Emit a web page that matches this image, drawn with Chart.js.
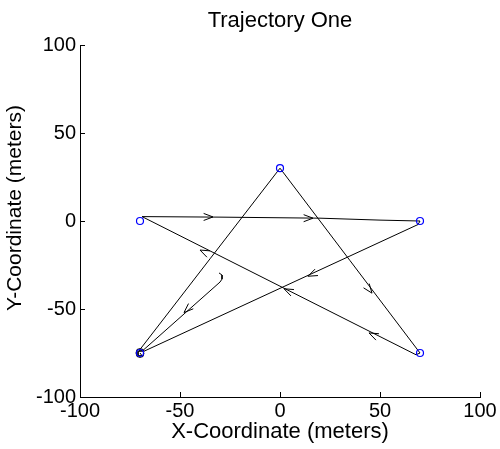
<!DOCTYPE html>
<html>
<head>
<meta charset="utf-8">
<script src="https://cdn.jsdelivr.net/npm/chart.js@4/dist/chart.umd.min.js"></script>
<style>
  html, body { margin: 0; padding: 0; background: #fff; }
  canvas { display: block; }
</style>
</head>
<body>
<canvas id="chart" width="500" height="449"></canvas>
<script>
const fontFamily = "'Liberation Sans', Arial, sans-serif";

// flown path, in meters
const trajX = [-30.5, -29, -29, -30, -69, -70.5, -70, -35, 0, 35, 70, 68, -69, -30, 20, 50, 70, 69, -68,
  -68.5, -70, -71.5, -72, -71.5, -70, -68.5, -68, -69, -71, -71, -69, -70];
const trajY = [-29.5, -30.7, -33, -34.7, -74, -74, -73, -21.5, 30, -22.5, -75, -76, 2.5, 2.2, 1.6, 0.5, 0, -2, -74,
  -73, -72.5, -73, -75, -77, -77.5, -77, -75, -73.5, -74, -76.5, -76.5, -75];

// waypoints (blue circles)
const wpX = [0, -70, 70, 70, -70];
const wpY = [30, 0, 0, -75, -75];

// arrow heads: tip position and travel direction
const arrowX = [-48, 46, 44.5, 2, -40, -33.5, 16.5, 14];
const arrowY = [-52, -41, -63.6, -38.5, -16.5, 2.3, 1.6, -31.4];
const arrowDX = [-22, 70, -140, -140, -140, 1, 1, -139];
const arrowDY = [-23, -105, 75, 75, 75, 0, 0, -73];

const axisTicks = [-100, -50, 0, 50, 100];

Chart.defaults.color = '#000';
Chart.defaults.font.family = fontFamily;

const arrowPlugin = {
  id: 'arrows',
  afterDatasetsDraw(chart) {
    const {ctx, scales: {x, y}} = chart;
    ctx.save();
    ctx.strokeStyle = '#000';
    ctx.lineWidth = 1;
    arrowX.forEach((ax, i) => {
      const px = x.getPixelForValue(ax);
      const py = y.getPixelForValue(arrowY[i]);
      const qx = x.getPixelForValue(ax - arrowDX[i] * 0.01);
      const qy = y.getPixelForValue(arrowY[i] - arrowDY[i] * 0.01);
      const a = Math.atan2(py - qy, px - qx);
      const len = 10, spread = 0.36;
      ctx.beginPath();
      ctx.moveTo(px - len * Math.cos(a - spread), py - len * Math.sin(a - spread));
      ctx.lineTo(px, py);
      ctx.lineTo(px - len * Math.cos(a + spread), py - len * Math.sin(a + spread));
      ctx.stroke();
    });
    ctx.restore();
  }
};

const yTitlePlugin = {
  id: 'yTitle',
  afterDraw(chart) {
    const {ctx} = chart;
    ctx.save();
    ctx.translate(15, 208);
    ctx.rotate(-Math.PI / 2);
    ctx.font = `21px ${fontFamily}`;
    ctx.fillStyle = '#000';
    ctx.textAlign = 'center';
    ctx.textBaseline = 'middle';
    ctx.fillText('Y-Coordinate (meters)', 0, 0);
    ctx.restore();
  }
};

const axisCommon = {
  type: 'linear',
  min: -100,
  max: 100,
  afterBuildTicks: s => { s.ticks = axisTicks.map(v => ({value: v})); },
  grid: { drawOnChartArea: false, drawTicks: true, tickLength: -5, color: '#000' },
  border: { display: true, color: '#000', width: 1 },
};

new Chart(document.getElementById('chart'), {
  type: 'scatter',
  data: {
    datasets: [
      {
        data: wpX.map((v, i) => ({x: v, y: wpY[i]})),
        pointStyle: 'circle',
        pointRadius: 3.5,
        borderColor: '#0000ff',
        backgroundColor: 'rgba(0,0,0,0)',
        borderWidth: 1.2,
        showLine: false,
      },
      {
        data: trajX.map((v, i) => ({x: v, y: trajY[i]})),
        showLine: true,
        borderColor: '#000',
        borderWidth: 1,
        pointRadius: 0,
        tension: 0,
      },
    ]
  },
  options: {
    responsive: false,
    animation: false,
    layout: { padding: { left: 0, right: 20, top: 0, bottom: 0 } },
    plugins: {
      legend: { display: false },
      tooltip: { enabled: false },
      title: {
        display: true,
        text: 'Trajectory One',
        fullSize: false,
        font: { size: 22, weight: 'normal' },
        padding: { top: 8, bottom: 10.6 },
      },
    },
    scales: {
      x: {
        ...axisCommon,
        position: 'bottom',
        ticks: { font: { size: 20 }, padding: 7, maxRotation: 0 },
        title: { display: true, text: 'X-Coordinate (meters)', font: { size: 22 }, padding: { top: 0, bottom: 4 } },
        afterFit: s => { s.height = 52; s.paddingLeft = 0; s.paddingRight = 0; },
      },
      y: {
        ...axisCommon,
        position: 'left',
        ticks: { font: { size: 20 }, padding: 9 },
        afterFit: s => { s.width = 80; s.paddingTop = 0; s.paddingBottom = 0; },
      },
    },
  },
  plugins: [arrowPlugin, yTitlePlugin],
});
</script>
</body>
</html>
